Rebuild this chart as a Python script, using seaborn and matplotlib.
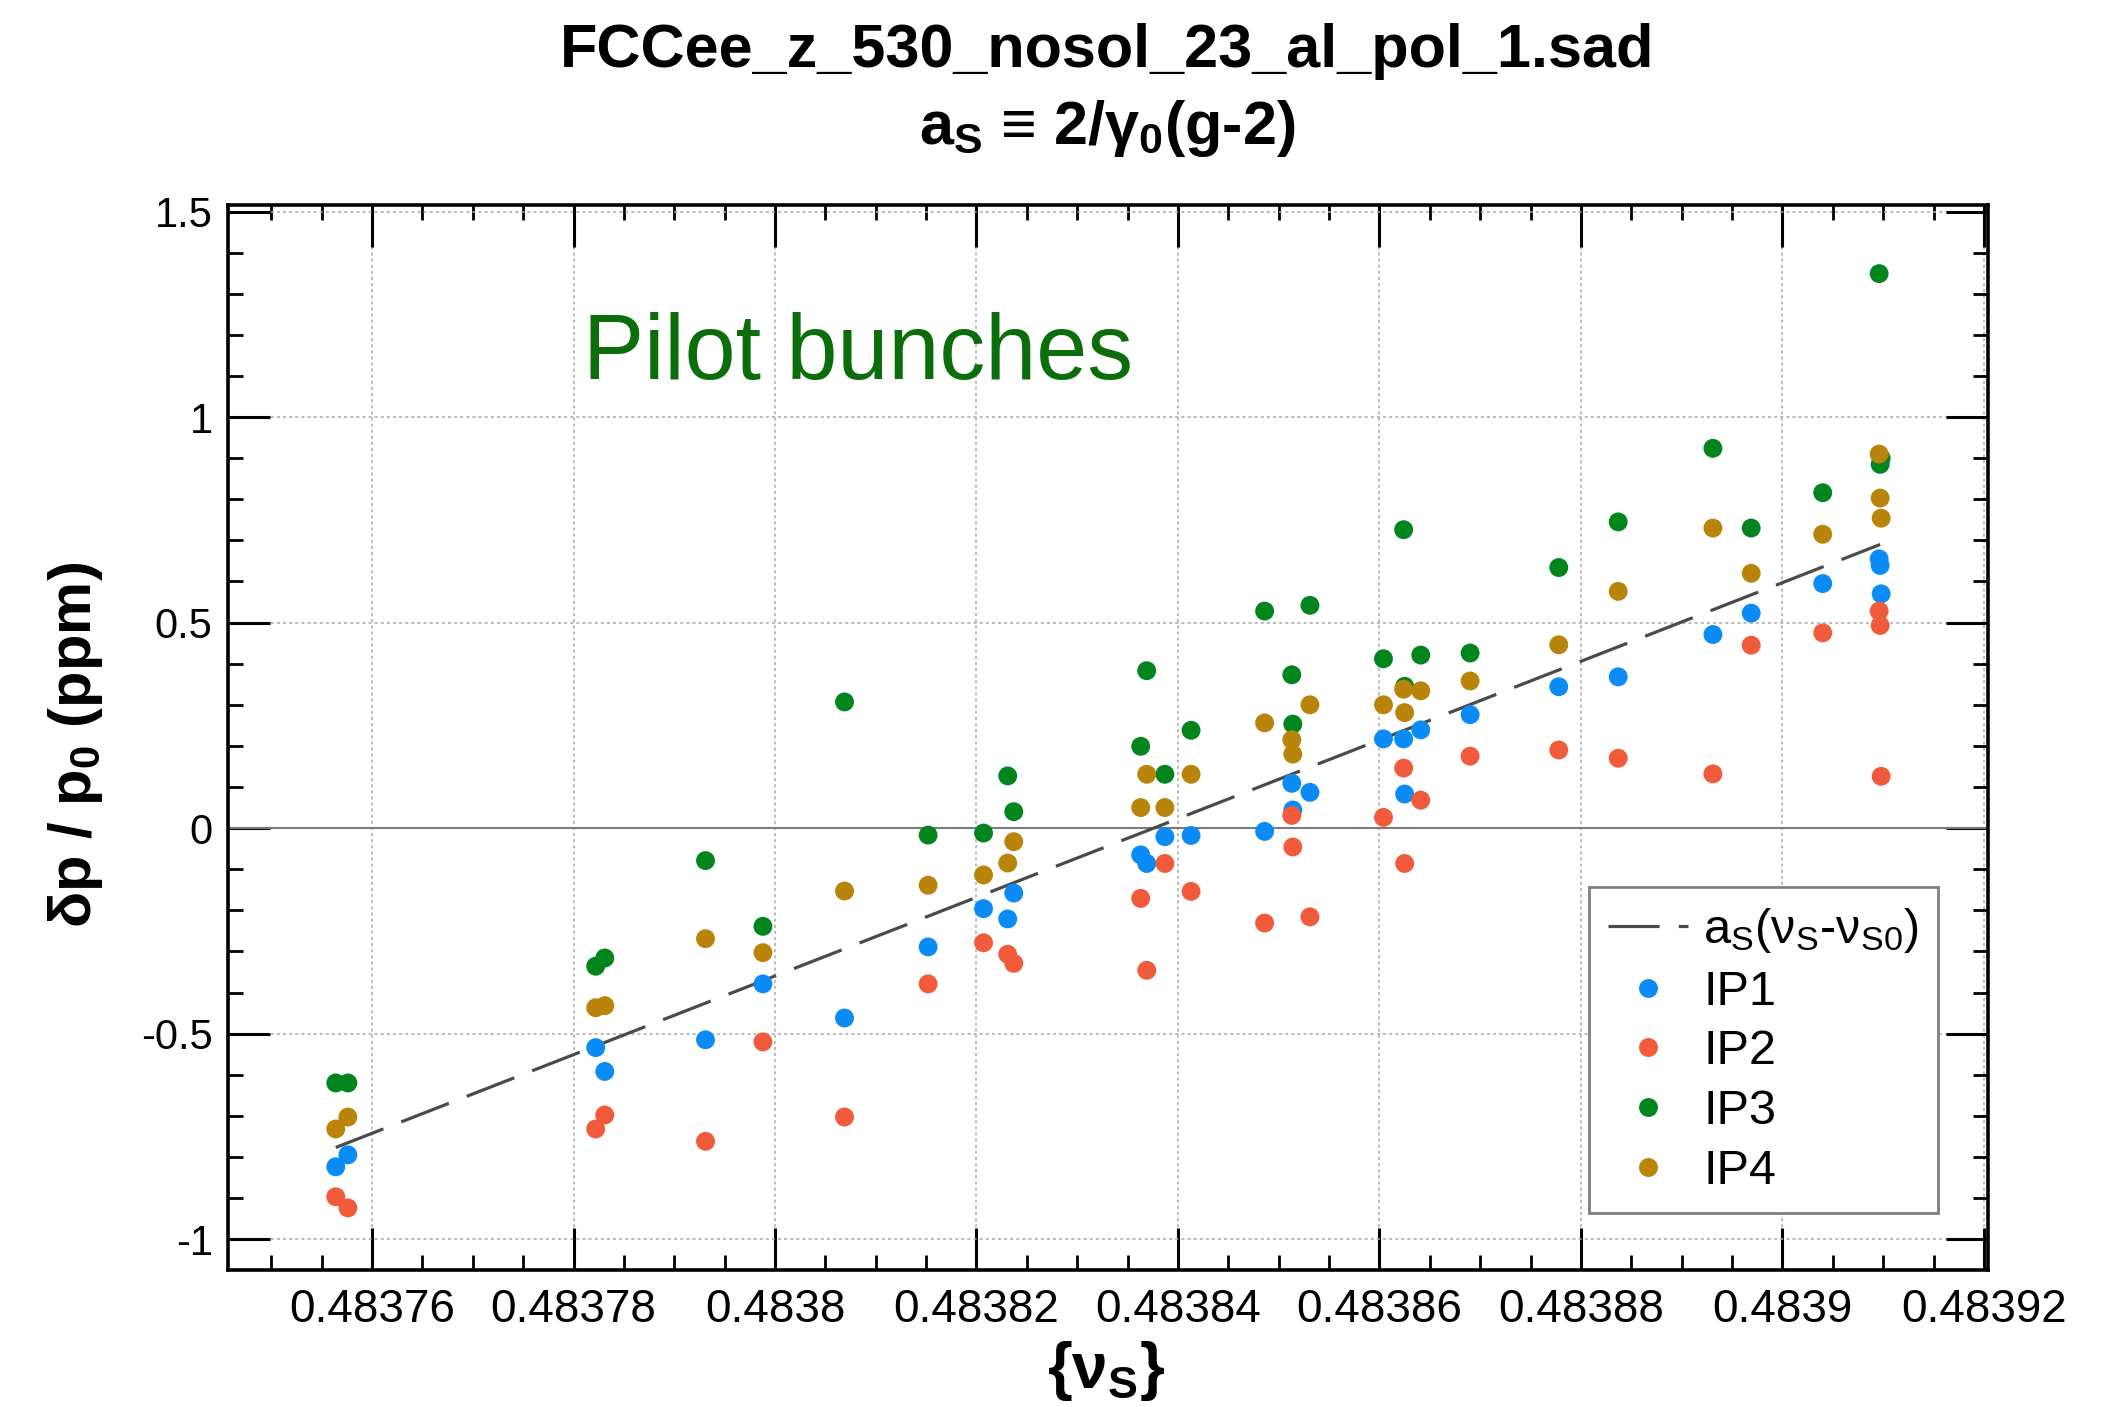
import numpy as np
import pandas as pd
import seaborn as sns
import matplotlib.pyplot as plt
from matplotlib.ticker import FixedLocator, MultipleLocator, FuncFormatter

# spin tune of each tracked run and the energy offset seen at each IP (ppm)
nu_s = [0.4837564, 0.4837576, 0.4837822, 0.4837831, 0.4837931, 0.4837988,
        0.4838069, 0.4838152, 0.4838207, 0.4838231, 0.4838237, 0.4838363,
        0.4838369, 0.4838387, 0.4838413, 0.4838486, 0.4838513, 0.4838514,
        0.4838531, 0.4838604, 0.4838624, 0.4838625, 0.4838641, 0.4838690,
        0.4838778, 0.4838837, 0.4838931, 0.4838969, 0.4839040, 0.4839096,
        0.4839097, 0.4839098]
ip1 = [-0.824, -0.795, -0.534, -0.592, -0.515, -0.379, -0.462, -0.289,
       -0.196, -0.221, -0.158, -0.065, -0.086, -0.021, -0.018, -0.008,
       0.109, 0.044, 0.087, 0.217, 0.217, 0.083, 0.239, 0.276,
       0.344, 0.368, 0.471, 0.523, 0.595, 0.655, 0.639, 0.570]
ip2 = [-0.897, -0.924, -0.732, -0.698, -0.762, -0.520, -0.703, -0.379,
       -0.279, -0.307, -0.329, -0.171, -0.346, -0.086, -0.154, -0.231,
       0.031, -0.046, -0.216, 0.026, 0.146, -0.086, 0.068, 0.175,
       0.190, 0.170, 0.132, 0.445, 0.475, 0.528, 0.493, 0.126]
ip3 = [-0.620, -0.620, -0.336, -0.316, -0.079, -0.239, 0.307, -0.017,
       -0.012, 0.127, 0.040, 0.199, 0.383, 0.131, 0.238, 0.528,
       0.373, 0.253, 0.542, 0.412, 0.726, 0.345, 0.421, 0.426,
       0.634, 0.745, 0.924, 0.730, 0.816, 1.349, 0.885, 0.900]
ip4 = [-0.732, -0.703, -0.437, -0.432, -0.269, -0.303, -0.153, -0.139,
       -0.114, -0.085, -0.033, 0.050, 0.131, 0.050, 0.131, 0.256,
       0.215, 0.180, 0.300, 0.300, 0.338, 0.281, 0.334, 0.358,
       0.446, 0.576, 0.730, 0.620, 0.715, 0.910, 0.803, 0.754]
ip_names = ["IP1", "IP2", "IP3", "IP4"]
ip_colors = ["#0b8bf5", "#f15a3a", "#02851d", "#b8840a"]

# a_S (nu_S - nu_S0) line, end points
fit_nu = [0.4837564, 0.4839097]
fit_dp = [-0.777, 0.690]

x_ticks = [0.48376, 0.48378, 0.48380, 0.48382, 0.48384, 0.48386, 0.48388,
           0.48390, 0.48392]
y_ticks = [-1, -0.5, 0, 0.5, 1, 1.5]

sns.set_style("white")
plt.rcParams["font.family"] = ["Liberation Sans", "DejaVu Sans"]
plt.rcParams["mathtext.fontset"] = "custom"
plt.rcParams["mathtext.rm"] = "Liberation Sans"
plt.rcParams["mathtext.it"] = "Liberation Sans:italic"
plt.rcParams["mathtext.bf"] = "Liberation Sans:bold"
for k in ["text.color", "axes.labelcolor", "xtick.color", "ytick.color"]:
    plt.rcParams[k] = "black"

df = pd.DataFrame({
    "nu_s": nu_s * 4,
    "dp": ip1 + ip2 + ip3 + ip4,
    "IP": sum([[n] * len(nu_s) for n in ip_names], []),
})

fig = plt.figure(figsize=(21.11, 14.07), dpi=100)
ax = fig.add_axes([0.108, 0.0974, 0.8337, 0.7569])

ax.axhline(0, color="#7a7a7a", lw=1.5, zorder=1)
line, = ax.plot(fit_nu, fit_dp, color="#4a4a4a", lw=2.3, zorder=2,
                label=r"a$_\mathrm{S}$(ν$_\mathrm{S}$-ν$_\mathrm{S0}$)")
line.set_dashes((16, 6))

sns.scatterplot(data=df, x="nu_s", y="dp", hue="IP", hue_order=ip_names,
                palette=ip_colors, s=185, linewidth=0, ax=ax, zorder=3)

ax.set_xlim(0.4837457, 0.4839204)
ax.set_ylim(-1.075, 1.516)

ax.xaxis.set_major_locator(FixedLocator(x_ticks))
ax.xaxis.set_minor_locator(MultipleLocator(0.000005))
ax.yaxis.set_major_locator(FixedLocator(y_ticks))
ax.yaxis.set_minor_locator(MultipleLocator(0.1))
fmt = FuncFormatter(lambda v, p: "{:.6g}".format(v))
ax.xaxis.set_major_formatter(fmt)
ax.yaxis.set_major_formatter(fmt)

ax.tick_params(which="both", direction="in", top=True, right=True,
               bottom=True, left=True, color="black")
ax.tick_params(which="major", length=30, width=2.2)
ax.tick_params(which="minor", length=11, width=2.0)
ax.tick_params(axis="x", pad=13, labelsize=33)
ax.tick_params(axis="y", pad=11, labelsize=30)

ax.grid(True, which="major", ls=(0, (2, 2)), color="#a8a8a8", lw=1.1)
ax.set_axisbelow(True)
for s in ax.spines.values():
    s.set_linewidth(2.6)
    s.set_color("black")

ax.set_xlabel("")
ax.set_ylabel("")

ax.text(0.2016, 0.837, "Pilot bunches", transform=ax.transAxes,
        fontsize=66, color="#0b6e0b", va="baseline", ha="left")

h, l = ax.get_legend_handles_labels()
leg = ax.legend(handles=h, labels=l, loc="lower right",
                bbox_to_anchor=(0.9716, 0.0535), borderaxespad=0,
                fontsize=35, frameon=True, fancybox=False,
                edgecolor="#808080", framealpha=1, handlelength=1.65,
                handletextpad=0.3, labelspacing=0.3, borderpad=0.4,
                markerscale=1.0)
leg.get_frame().set_linewidth(2)

# titles and axis labels
fig.text(0.5244, 1 - 67 / 1407, "FCCee_z_530_nosol_23_al_pol_1.sad",
         ha="center", va="baseline", fontsize=44, fontweight="bold")
fig.text(0.5244, 1 - 144 / 1407,
         r"a$_\mathbf{S}$ ≡ 2/γ$_\mathbf{0}$(g-2)",
         ha="center", va="baseline", fontsize=44, fontweight="bold")
fig.text(1106 / 2111, 1 - 1371 / 1407, r"{ν$_\mathbf{S}$}",
         ha="center", va="center", fontsize=46, fontweight="bold")
fig.text(76 / 2111, 1 - 745 / 1407, r"δp / p$_\mathbf{0}$ (ppm)",
         ha="center", va="center", rotation=90, fontsize=43,
         fontweight="bold")

fig.savefig("out.png", dpi=100)
